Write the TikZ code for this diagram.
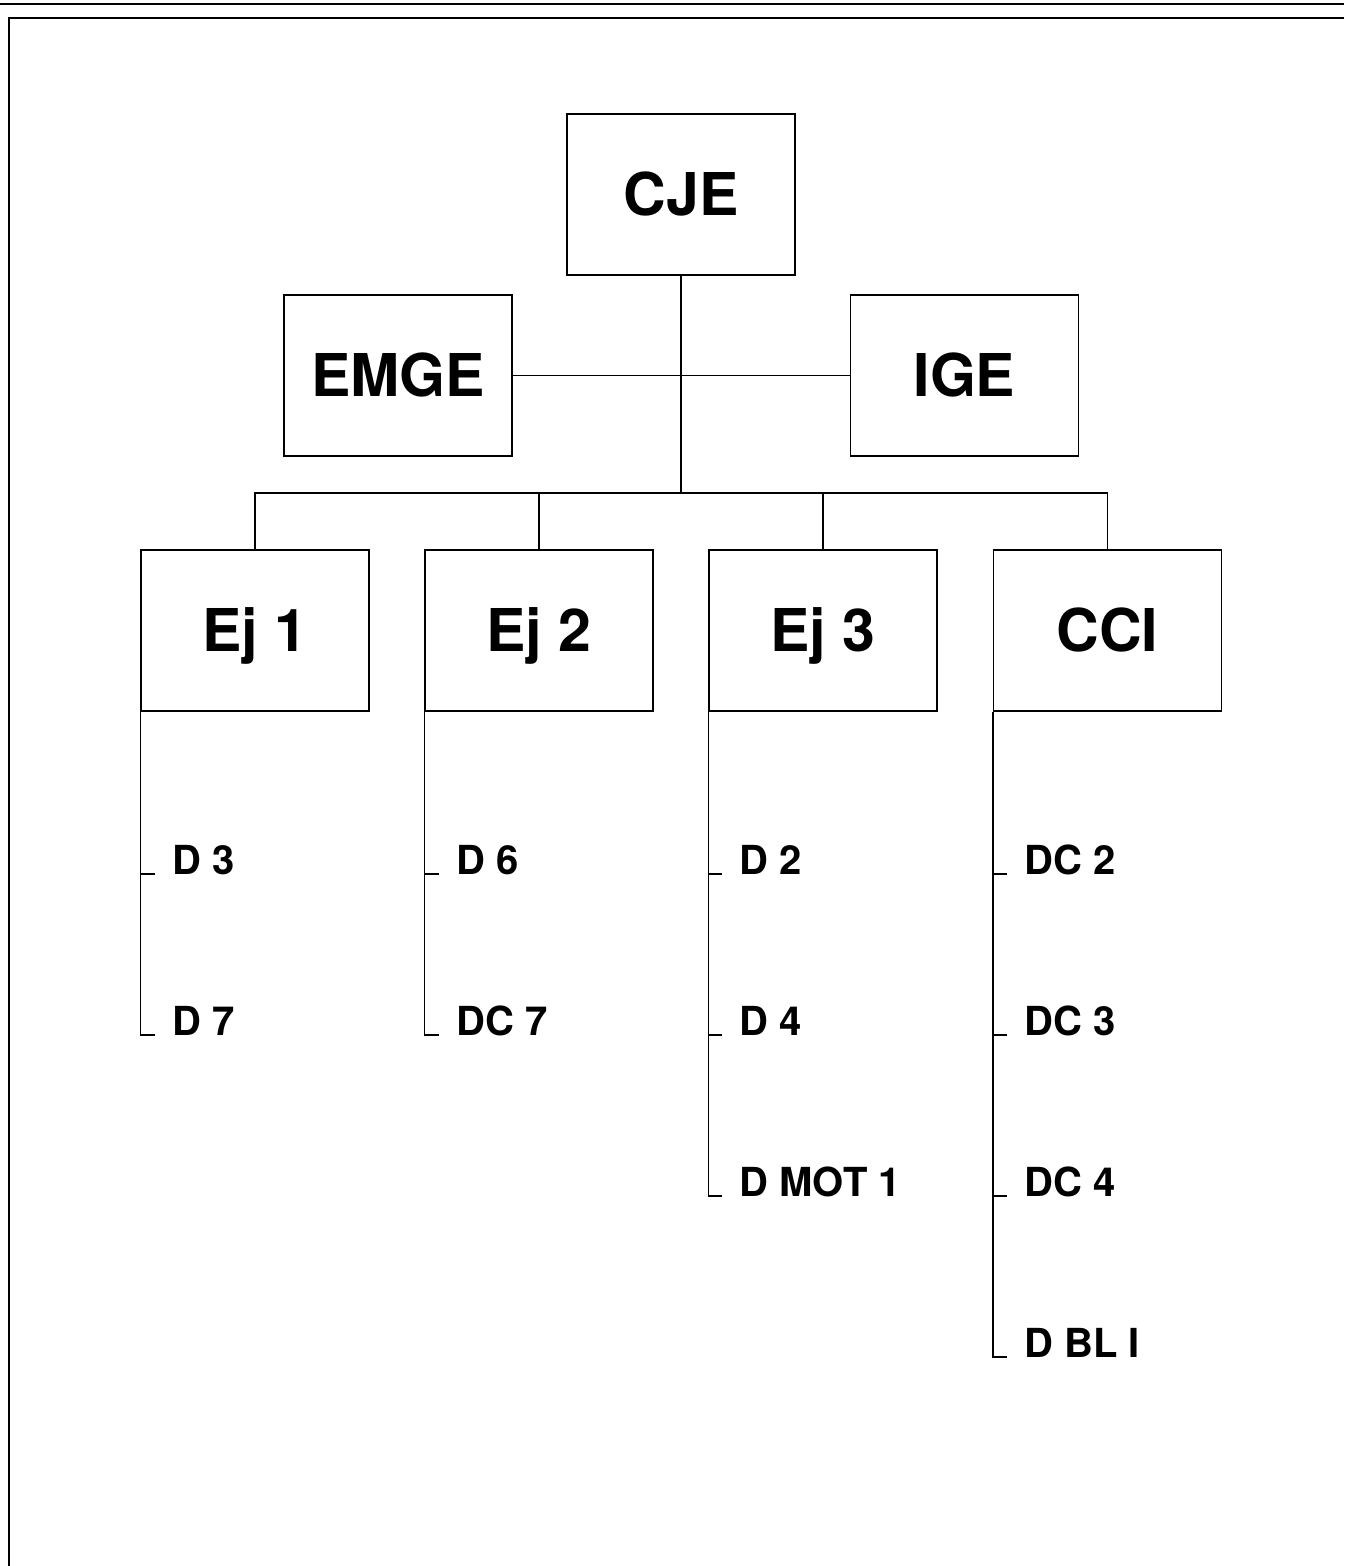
\documentclass[tikz,border=0pt]{standalone}
\usepackage{fontspec}
\setmainfont{TeX Gyre Heros}
\begin{document}
\begin{tikzpicture}[x=0.5pt,y=-0.5pt,
  box/.style={draw,line width=0.6pt,minimum width=114pt,minimum height=80.5pt,inner sep=0pt,text height=21pt,text depth=0pt,font=\fontsize{29.5}{31}\selectfont\bfseries},
  leaf/.style={anchor=base west,inner sep=0pt,font=\fontsize{20}{22}\selectfont\bfseries},
  conn/.style={line width=0.6pt}]
\useasboundingbox (0,0) rectangle (1344,1566);
% frame
\draw[line width=0.8pt] (0,4) -- (1344,4);
\draw[line width=0.8pt] (1344,18) -- (9,18) -- (9,1566);
% boxes
\node[box] (cje) at (681,194.5) {CJE};
\node[box] (emge) at (398,375.5) {EMGE};
\node[box] (ige) at (964.5,375.5) {IGE};
\node[box] (e1) at (255,630.5) {Ej 1};
\node[box] (e2) at (539,630.5) {Ej 2};
\node[box] (e3) at (823,630.5) {Ej 3};
\node[box] (cci) at (1107.5,630.5) {CCI};
\coordinate (bus) at (681,493);
\draw[conn] (emge) -- (ige);
\draw[conn] (cje) -- (bus);
\foreach \n in {e1,e2,e3,cci} \draw[conn] (\n.north) |- (bus);
% leaves
\node[leaf] (d3) at (172,874) {D 3};
\node[leaf] (d7) at (172,1035) {D 7};
\node[leaf] (d6) at (456,874) {D 6};
\node[leaf] (dc7) at (456,1035) {DC 7};
\node[leaf] (d2) at (739,874) {D 2};
\node[leaf] (d4) at (739,1035) {D 4};
\node[leaf] (dmot) at (739,1196) {D MOT 1};
\node[leaf] (dc2) at (1024,874) {DC 2};
\node[leaf] (dc3) at (1024,1035) {DC 3};
\node[leaf] (dc4) at (1024,1196) {DC 4};
\node[leaf] (dbl) at (1024,1357) {D BL I};
% trunks
\draw[conn] (e1.south west) |- ([xshift=-8.5pt]d7.base west);
\draw[conn] ([xshift=-8.5pt]d3.base west) -- (d3.base west -| e1.south west);
\draw[conn] (e2.south west) |- ([xshift=-8.5pt]dc7.base west);
\draw[conn] ([xshift=-8.5pt]d6.base west) -- (d6.base west -| e2.south west);
\draw[conn] (e3.south west) |- ([xshift=-8.5pt]dmot.base west);
\draw[conn] ([xshift=-8.5pt]d2.base west) -- (d2.base west -| e3.south west);
\draw[conn] ([xshift=-8.5pt]d4.base west) -- (d4.base west -| e3.south west);
\draw[conn] (cci.south west) |- ([xshift=-8.5pt]dbl.base west);
\draw[conn] ([xshift=-8.5pt]dc2.base west) -- (dc2.base west -| cci.south west);
\draw[conn] ([xshift=-8.5pt]dc3.base west) -- (dc3.base west -| cci.south west);
\draw[conn] ([xshift=-8.5pt]dc4.base west) -- (dc4.base west -| cci.south west);
\end{tikzpicture}
\end{document}
